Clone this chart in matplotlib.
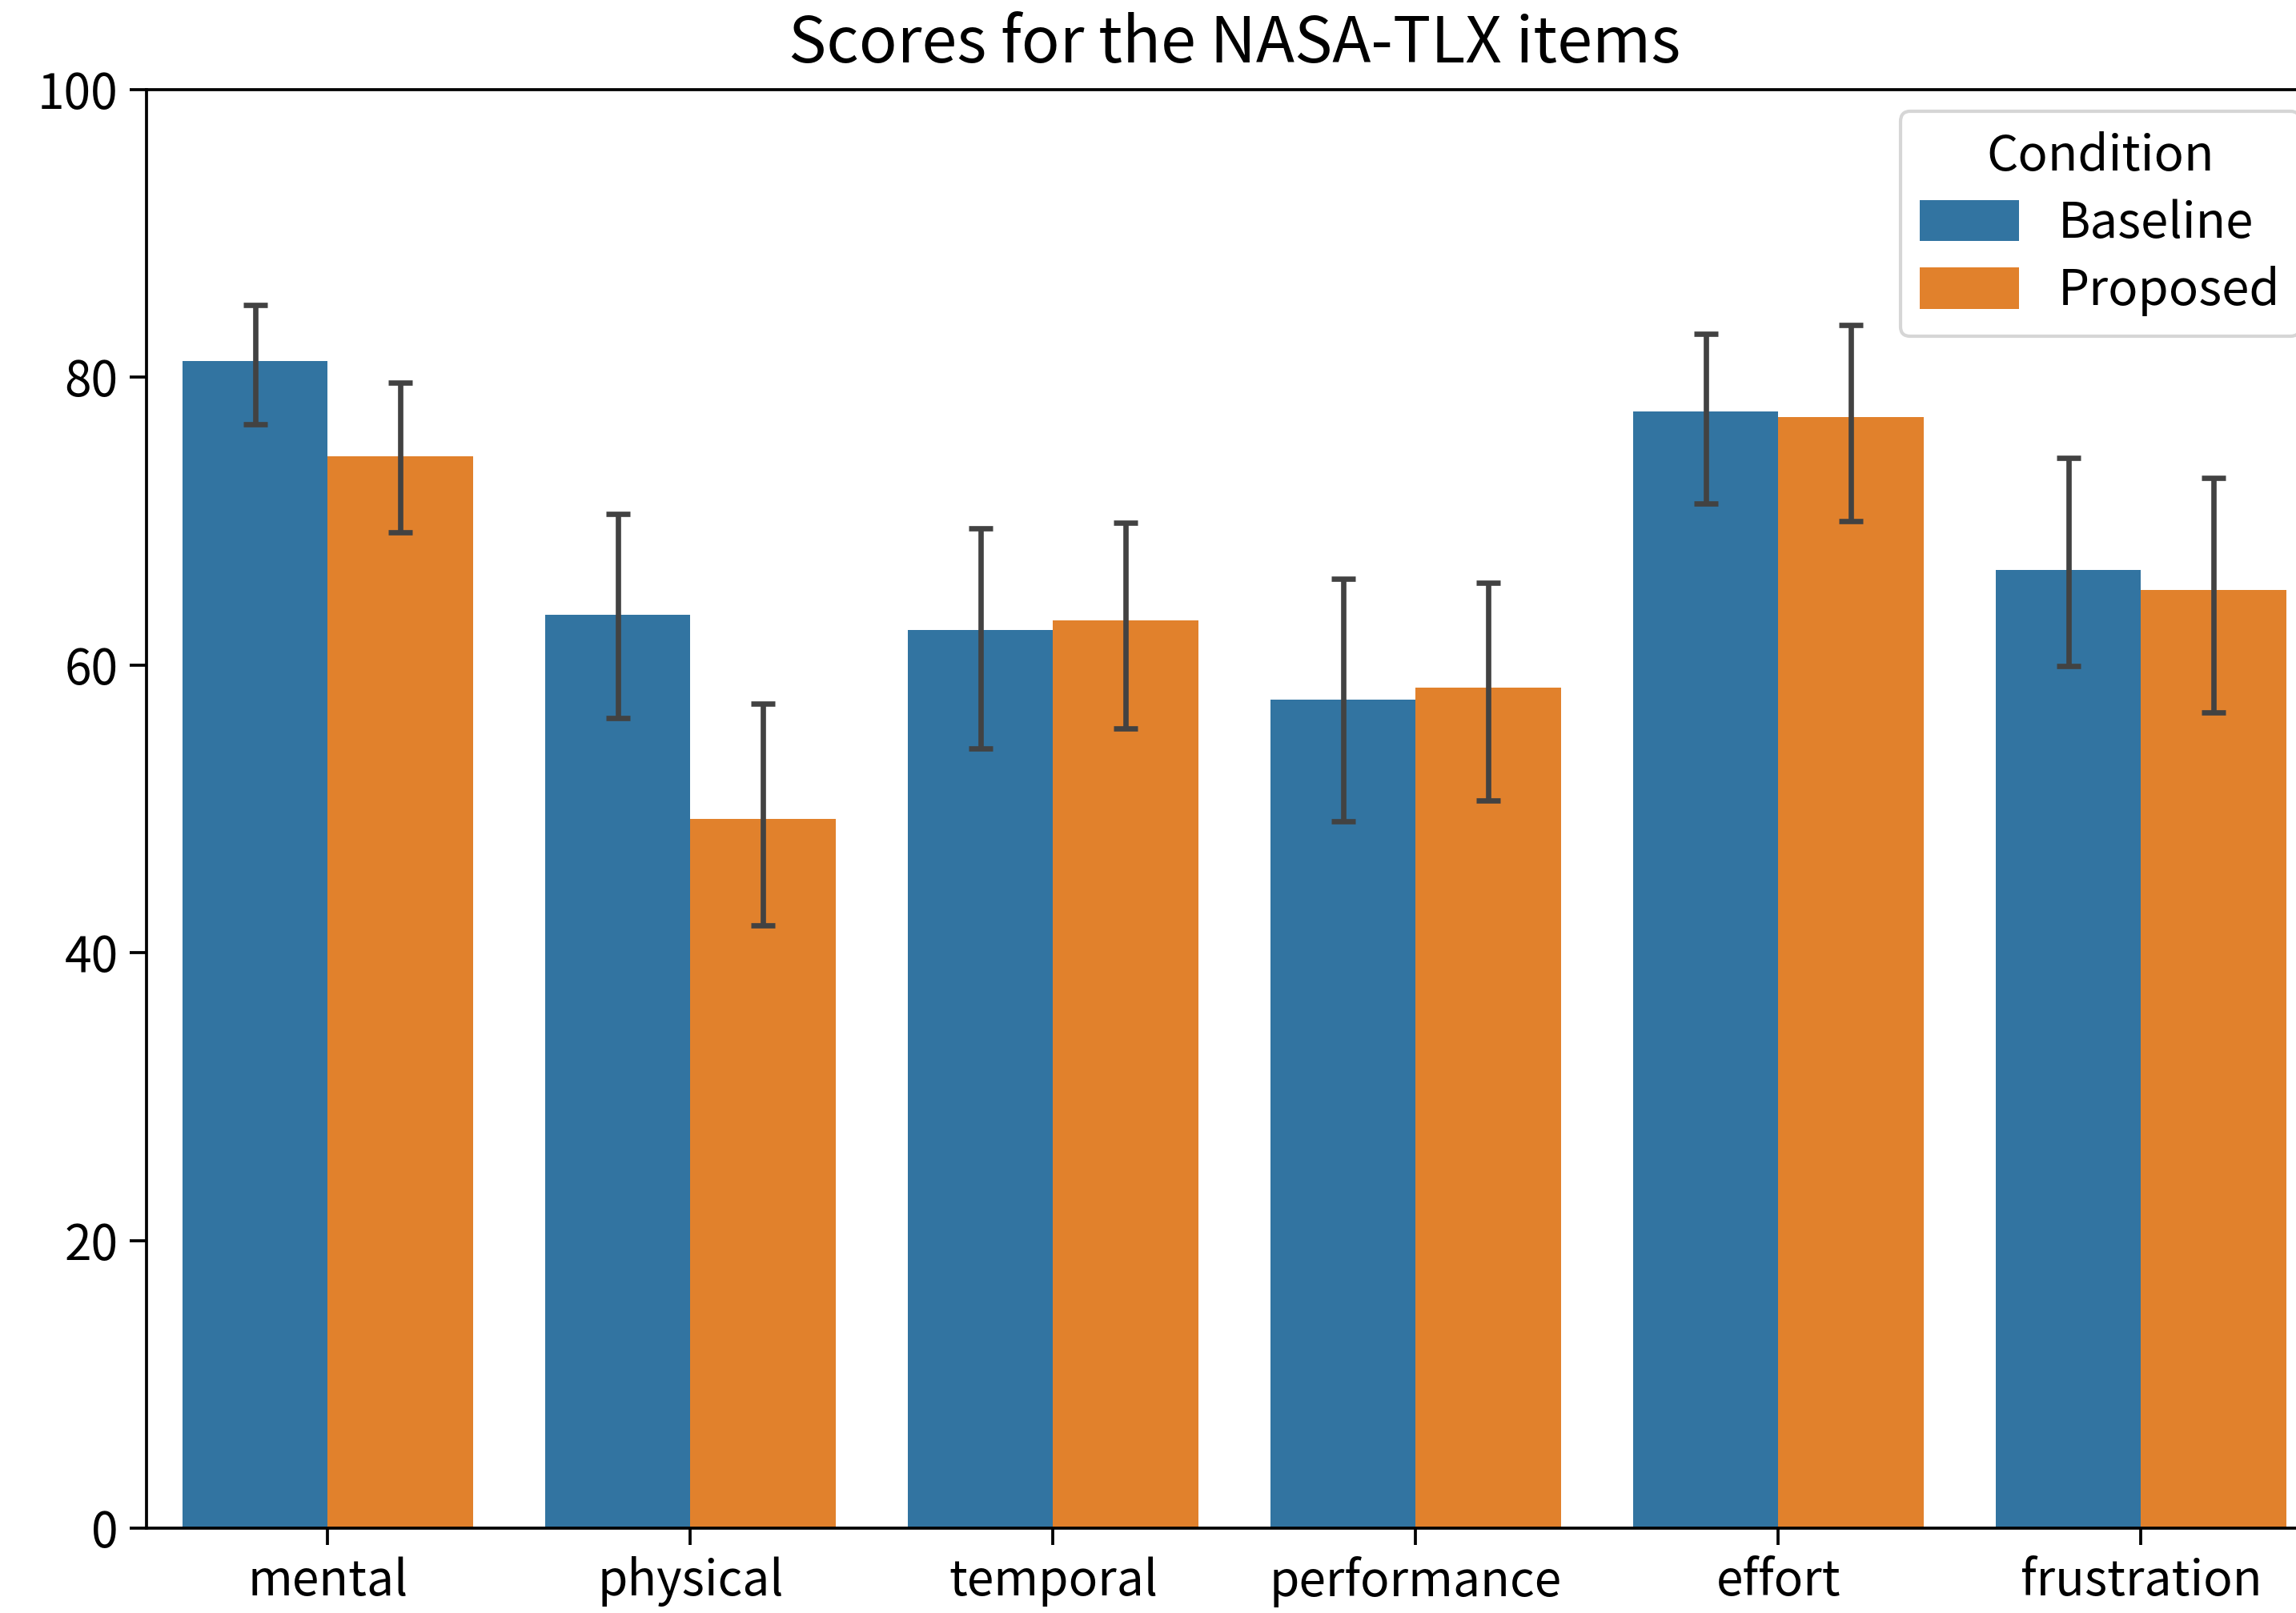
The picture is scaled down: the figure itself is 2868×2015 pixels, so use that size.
import matplotlib
matplotlib.use("Agg")
from matplotlib import pyplot as plt
import numpy as np

plt.rcParams['font.family'] = ['Noto Sans CJK JP', 'DejaVu Sans']

items = ["mental", "physical", "temporal", "performance", "effort", "frustration"]
conditions = ["Baseline", "Proposed"]

# mean scores
baseline_mean = [81.1, 63.5, 62.4, 57.6, 77.6, 66.6]
proposed_mean = [74.5, 49.3, 63.1, 58.4, 77.2, 65.2]
# error bar ends (low, high)
baseline_lo = [76.7, 56.3, 54.2, 49.1, 71.2, 59.9]
baseline_hi = [85.0, 70.5, 69.5, 66.0, 83.0, 74.4]
proposed_lo = [69.2, 41.9, 55.6, 50.6, 70.0, 56.7]
proposed_hi = [79.6, 57.3, 69.9, 65.7, 83.6, 73.0]

colors = ["#3274a1", "#e1812c"]

fig = plt.figure(figsize=(9.56, 6.7167), dpi=300)
ax = fig.add_axes([0.0638, 0.0526, 0.9477, 0.892])

x = np.arange(len(items))
w = 0.4
series = [(baseline_mean, baseline_lo, baseline_hi), (proposed_mean, proposed_lo, proposed_hi)]
for i, (m, lo, hi) in enumerate(series):
    pos = x - w / 2 + i * w
    m = np.array(m)
    ax.bar(pos, m, width=w, color=colors[i], label=conditions[i], zorder=2)
    yerr = np.vstack([m - np.array(lo), np.array(hi) - m])
    ax.errorbar(pos, m, yerr=yerr, fmt="none", ecolor="#424242",
                elinewidth=1.6, capsize=3.5, capthick=1.6, zorder=3)

ax.set_xlim(-0.5, len(items) - 0.5)
ax.set_ylim(0, 100)
ax.set_xticks(x)
ax.set_xticklabels(items)
ax.set_yticks([0, 20, 40, 60, 80, 100])
ax.tick_params(labelsize=14.5, width=0.9, length=5)
for s in ax.spines.values():
    s.set_linewidth(0.9)
ax.set_title("Scores for the NASA-TLX items", fontsize=19, pad=8)

leg = ax.legend(title="Condition", loc="upper right", fontsize=14.8,
                title_fontsize=14.8, fancybox=True, framealpha=0.8,
                handlelength=2.0, handleheight=0.9, borderaxespad=0.45,
                labelspacing=0.35)

fig.savefig("out.png", dpi=300)
